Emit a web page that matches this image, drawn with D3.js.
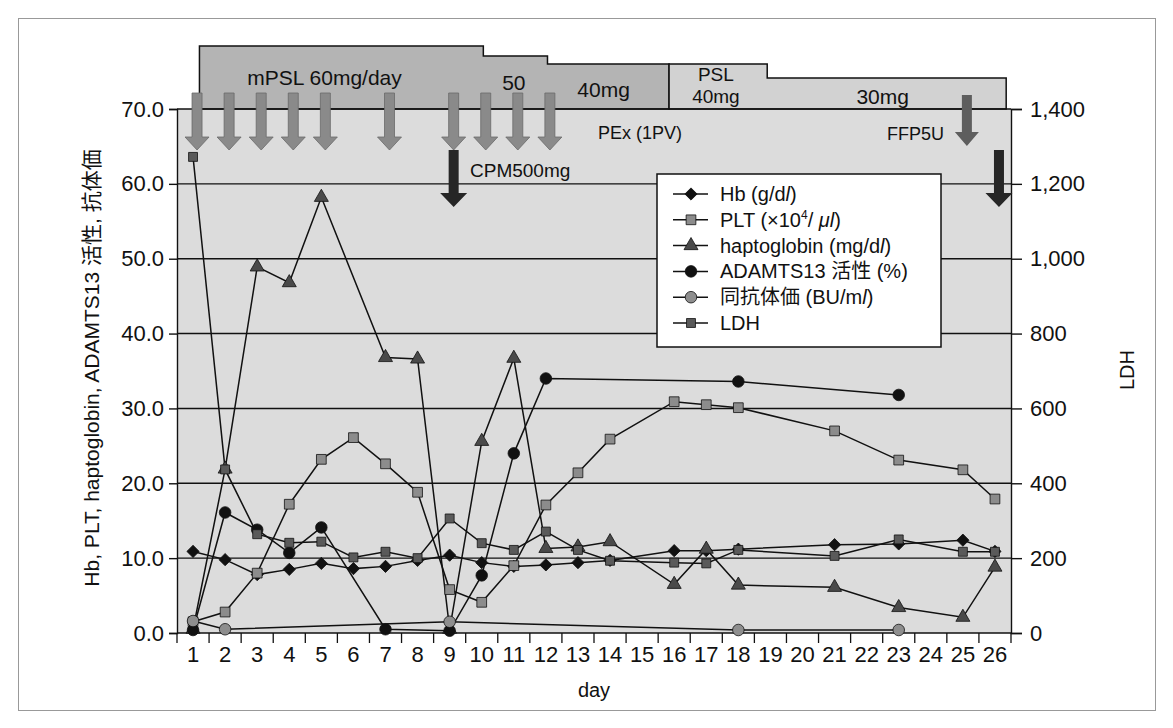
<!DOCTYPE html>
<html>
<head>
<meta charset="utf-8">
<script src="https://cdn.jsdelivr.net/npm/d3@7"></script>
<style>
  body { margin: 0; background: #fff; }
  svg text { font-family: "Liberation Sans", Arial, "Noto Sans CJK JP", sans-serif; fill: #111; }
</style>
</head>
<body>
<svg id="chart" width="1173" height="728"></svg>
<script>
// ---- data ----
const days = [1,2,3,4,5,6,7,8,9,10,11,12,13,14,15,16,17,18,19,20,21,22,23,24,25,26];
const hb       = [10.9,9.8,7.8,8.5,9.3,8.6,8.9,9.7,10.4,9.4,8.9,9.1,9.4,9.7,null,11.0,11.0,11.2,null,null,11.8,null,11.9,null,12.4,10.9];
const plt      = [1.5,2.8,8.0,17.2,23.2,26.1,22.6,18.8,5.8,4.1,9.0,17.1,21.4,25.9,null,30.9,30.5,30.1,null,null,27.0,null,23.1,null,21.8,17.9];
const hapto    = [0.5,21.9,48.9,46.8,58.2,null,36.8,36.6,0.5,25.6,36.7,11.3,11.5,12.2,null,6.5,11.2,6.4,null,null,6.1,null,3.4,null,2.1,8.8];
const adamts13 = [0.4,16.1,13.8,10.7,14.1,null,0.5,null,0.3,7.7,24.0,34.0,null,null,null,null,null,33.6,null,null,null,null,31.8,null,null,null];
const antibody = [1.6,0.5,null,null,null,null,null,null,1.5,null,null,null,null,null,null,null,null,0.4,null,null,null,null,0.4,null,null,null];
const ldh      = [1272,437,264,241,244,202,217,200,306,240,222,271,222,193,null,188,186,222,null,null,206,null,250,null,217,217];

const leftTicks  = [0,10,20,30,40,50,60,70];
const rightTicks = [0,200,400,600,800,1000,1200,1400];

// treatment (steroid) periods, in days, with dose in mg
const doseFrom = [1.2, 10.05, 12.05, 15.84, 18.9];
const doseTo   = [10.05, 12.05, 15.84, 18.9, 26.35];
const doseMg   = [60, 50, 40, 40, 30];
const doseDrug = ["mPSL","mPSL","mPSL","PSL","PSL"];

const pexDays = [1,2,3,4,5,7,9,10,11,12];
const cpmDays = [9,26];
const ffpDays = [25];

// ---- layout ----
const svg = d3.select("#chart");
const L = 177, R = 1011, T = 109, B = 633;

svg.append("rect").attr("x",18.5).attr("y",18.5).attr("width",1137).attr("height",692)
  .attr("fill","#fff").attr("stroke","#999").attr("stroke-width",1);

const x = d3.scaleBand().domain(days).range([L, R]).paddingInner(0).paddingOuter(0);
const xl = d3.scaleLinear().domain([1, 26]).range([x(1) + x.bandwidth()/2, x(26) + x.bandwidth()/2]);
const y = d3.scaleLinear().domain([0, 70]).range([B, T]);
const y2 = d3.scaleLinear().domain([0, 1400]).range([B, T]);
const yd = d3.scaleLinear().domain([30, 40, 50, 60]).range([78, 64, 56, 46]);

// plot background
svg.append("rect").attr("x", L).attr("y", T).attr("width", R - L).attr("height", B - T)
  .attr("fill", "#dcdcdc");

// treatment bar
function stepPoly(idx) {
  const pts = [[xl(doseFrom[idx[0]]), T]];
  idx.forEach(i => {
    pts.push([xl(doseFrom[i]), yd(doseMg[i])]);
    pts.push([xl(doseTo[i]), yd(doseMg[i])]);
  });
  pts.push([xl(doseTo[idx[idx.length - 1]]), T]);
  return d3.line()(pts) + "Z";
}
const mIdx = doseDrug.map((d,i) => d === "mPSL" ? i : -1).filter(i => i >= 0);
const pIdx = doseDrug.map((d,i) => d === "PSL" ? i : -1).filter(i => i >= 0);
svg.append("path").attr("d", stepPoly(mIdx)).attr("fill", "#b4b4b4").attr("stroke", "#111").attr("stroke-width", 1.5);
svg.append("path").attr("d", stepPoly(pIdx)).attr("fill", "#d2d2d2").attr("stroke", "#111").attr("stroke-width", 1.5);

const barLabels = [
  {t: "mPSL 60mg/day", d: 5.1, y: 85, fs: 21},
  {t: "50", d: 11.0, y: 90, fs: 21},
  {t: "40mg", d: 13.8, y: 97, fs: 21},
  {t: "PSL", d: 17.3, y: 81, fs: 19},
  {t: "40mg", d: 17.3, y: 103, fs: 19},
  {t: "30mg", d: 22.5, y: 104, fs: 21}
];
svg.selectAll(".barlbl").data(barLabels).enter().append("text")
  .attr("x", d => xl(d.d)).attr("y", d => d.y).attr("text-anchor", "middle")
  .attr("font-size", d => d.fs).text(d => d.t);

// gridlines
svg.append("g").selectAll("line").data(leftTicks.filter(d => d > 0)).enter().append("line")
  .attr("x1", L).attr("x2", R).attr("y1", d => y(d)).attr("y2", d => y(d))
  .attr("stroke", "#111").attr("stroke-width", 1.4);

// axes
const axL = svg.append("g").attr("transform", `translate(${L},0)`)
  .call(d3.axisLeft(y).tickValues(leftTicks).tickFormat(d3.format(".1f")).tickSize(8).tickPadding(5));
const axR = svg.append("g").attr("transform", `translate(${R},0)`)
  .call(d3.axisRight(y2).tickValues(rightTicks).tickFormat(d3.format(",")).tickSize(11).tickPadding(8));
const axB = svg.append("g").attr("transform", `translate(0,${B})`)
  .call(d3.axisBottom(x).tickSize(0).tickPadding(13));
[axL, axR, axB].forEach(g => {
  g.selectAll("text").attr("font-size", 22).attr("fill", "#111").attr("font-family", null);
  g.selectAll("line,path").attr("stroke", "#111").attr("stroke-width", 1.4);
});
axB.select(".domain").remove();
svg.append("line").attr("x1", L).attr("x2", R).attr("y1", B).attr("y2", B).attr("stroke", "#111").attr("stroke-width", 1.5);
svg.append("g").selectAll("line").data(days.concat([null])).enter().append("line")
  .attr("x1", d => d === null ? R : x(d)).attr("x2", d => d === null ? R : x(d))
  .attr("y1", B).attr("y2", B + 10).attr("stroke", "#111").attr("stroke-width", 1.3);

// axis titles
svg.append("text").attr("transform", "translate(91,368) rotate(-90)").attr("text-anchor", "middle")
  .attr("dominant-baseline", "central").attr("font-size", 21).text("Hb, PLT, haptoglobin, ADAMTS13 活性, 抗体価");
svg.append("text").attr("transform", "translate(1127,370) rotate(-90)").attr("text-anchor", "middle")
  .attr("dominant-baseline", "central").attr("font-size", 20).text("LDH");
svg.append("text").attr("x", (L + R) / 2).attr("y", 697).attr("text-anchor", "middle").attr("font-size", 20).text("day");

// arrows
function arrow(cx, top, head, tip, sw, hw) {
  return `M${cx - sw/2},${top}L${cx + sw/2},${top}L${cx + sw/2},${head}L${cx + hw/2},${head}L${cx},${tip}L${cx - hw/2},${head}L${cx - sw/2},${head}Z`;
}
const cx = d => x(d) + x.bandwidth()/2 + 4;
svg.append("g").selectAll("path").data(pexDays).enter().append("path")
  .attr("d", d => arrow(cx(d), 93, 137, 150, 10, 24)).attr("fill", "#8a8a8a").attr("stroke", "#6a6a6a").attr("stroke-width", 0.8);
svg.append("g").selectAll("path").data(cpmDays).enter().append("path")
  .attr("d", d => arrow(cx(d), 150, 193, 207, 10, 27)).attr("fill", "#262626");
svg.append("g").selectAll("path").data(ffpDays).enter().append("path")
  .attr("d", d => arrow(cx(d), 95, 132, 146, 10, 24)).attr("fill", "#5e5e5e");

svg.append("text").attr("x", 598).attr("y", 139).attr("font-size", 18).attr("fill", "#333").text("PEx (1PV)");
svg.append("text").attr("x", 470).attr("y", 177).attr("font-size", 19).text("CPM500mg");
svg.append("text").attr("x", 944).attr("y", 140).attr("text-anchor", "end").attr("font-size", 18).attr("fill", "#333").text("FFP5U");

// series
const series = [
  {vals: hb, sc: y, shape: d3.symbolSquare, rot: 45, size: 75, fill: "#111"},
  {vals: plt, sc: y, shape: d3.symbolSquare, rot: 0, size: 95, fill: "#8c8c8c"},
  {vals: hapto, sc: y, shape: d3.symbolTriangle, rot: 0, size: 85, fill: "#4a4a4a"},
  {vals: adamts13, sc: y, shape: d3.symbolCircle, rot: 0, size: 105, fill: "#111"},
  {vals: antibody, sc: y, shape: d3.symbolCircle, rot: 0, size: 105, fill: "#8e8e8e"},
  {vals: ldh, sc: y2, shape: d3.symbolSquare, rot: 0, size: 80, fill: "#5a5a5a"}
];
const lineGen = d3.line().x(d => x(d.day) + x.bandwidth()/2).y(d => d.sc(d.v));
series.forEach(s => {
  const pts = days.map((d, i) => ({day: d, v: s.vals[i], sc: s.sc})).filter(p => p.v !== null);
  svg.append("path").attr("d", lineGen(pts)).attr("fill", "none").attr("stroke", "#111").attr("stroke-width", 1.5);
  s.pts = pts;
});
series.forEach(s => {
  svg.append("g").selectAll("path").data(s.pts).enter().append("path")
    .attr("d", d3.symbol().type(s.shape).size(s.size))
    .attr("transform", d => `translate(${x(d.day) + x.bandwidth()/2},${s.sc(d.v)}) rotate(${s.rot})`)
    .attr("fill", s.fill).attr("stroke", "#111").attr("stroke-width", 0.8);
});

// legend
const legendLabels = [
  [["Hb (g/d"], ["l", "i"], [")"]],
  [["PLT (×10"], ["4", "sup"], ["/ "], ["μl", "i"], [")"]],
  [["haptoglobin (mg/d"], ["l", "i"], [")"]],
  [["ADAMTS13 活性 (%)"]],
  [["同抗体価 (BU/m"], ["l", "i"], [")"]],
  [["LDH"]]
];
const lg = svg.append("g");
lg.append("rect").attr("x", 657).attr("y", 174).attr("width", 284).attr("height", 173)
  .attr("fill", "#fff").attr("stroke", "#111").attr("stroke-width", 1.5);
const rowY = d3.scaleLinear().domain([0, 5]).range([194, 323]);
legendLabels.forEach((parts, i) => {
  const yy = rowY(i);
  lg.append("line").attr("x1", 673).attr("x2", 708).attr("y1", yy).attr("y2", yy).attr("stroke", "#111").attr("stroke-width", 1.5);
  const s = series[i];
  lg.append("path").attr("d", d3.symbol().type(s.shape).size(s.size))
    .attr("transform", `translate(691,${yy}) rotate(${s.rot})`).attr("fill", s.fill).attr("stroke", "#111").attr("stroke-width", 0.8);
  const t = lg.append("text").attr("x", 720).attr("y", yy + 7).attr("font-size", 20);
  parts.forEach((p, k) => {
    const ts = t.append("tspan").text(p[0]);
    if (p[1] === "i") ts.attr("font-style", "italic");
    if (p[1] === "sup") ts.attr("font-size", 12).attr("dy", -8);
    const prev = parts[k - 1];
    if (prev && prev[1] === "sup") ts.attr("dy", 8);
  });
});
</script>
</body>
</html>
